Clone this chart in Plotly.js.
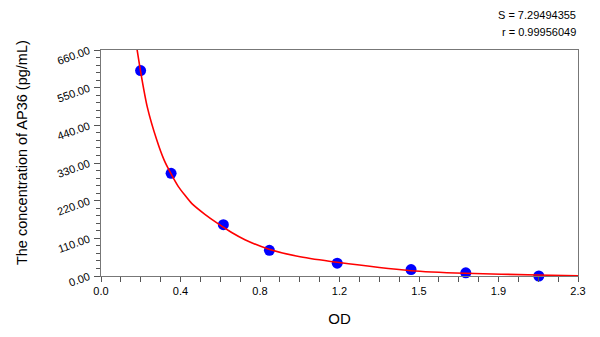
<!DOCTYPE html>
<html>
<head>
<meta charset="utf-8">
<script src="https://cdn.plot.ly/plotly-3.0.1.min.js"></script>
<style>html,body{margin:0;padding:0;background:#fff;}#chart{width:600px;height:337px;}</style>
</head>
<body>
<div id="chart"></div>
<script>
// Standard points (OD vs concentration)
const pointOD = [0.191, 0.338, 0.590, 0.812, 1.139, 1.495, 1.759, 2.111];
const pointConc = [600, 300, 150, 75, 37.5, 18.75, 9.375, 0];
// Fitted curve
const curveOD = [0.172, 0.191, 0.223, 0.269, 0.304, 0.338, 0.373, 0.437, 0.501, 0.566, 0.630, 0.694, 0.810, 0.960, 1.138, 1.495, 1.755, 2.107, 2.300];
const curveConc = [669, 597, 494, 397, 339, 298, 261, 212, 180, 152, 127, 106, 78, 56, 40, 15.5, 7.9, 2.8, 0.9];
// Axis ticks
const xTickVals = [0, 2.3/6, 4.6/6, 6.9/6, 9.2/6, 11.5/6, 2.3];
const xTickText = ["0.0", "0.4", "0.8", "1.2", "1.5", "1.9", "2.3"];
const statLines = ["S = 7.29494355", "r = 0.99956049"];
const yTitle = "The concentration of AP36 (pg/mL)";
const xTitle = "OD";

const font = "Liberation Sans, Arial, sans-serif";

const traces = [
  {x: pointOD, y: pointConc, mode: "markers", type: "scatter",
   marker: {color: "#0000ff", size: 11, line: {width: 0}}, cliponaxis: false},
  {x: curveOD, y: curveConc, mode: "lines", type: "scatter",
   line: {color: "#ff0000", width: 1.6, shape: "spline", smoothing: 0.5}}
];

const layout = {
  width: 600, height: 337,
  margin: {l: 101, r: 22, t: 50, b: 61},
  paper_bgcolor: "#fff", plot_bgcolor: "#fff",
  showlegend: false,
  font: {family: font, color: "#000", size: 11},
  xaxis: {
    range: [0, 2.3], tickmode: "array", tickvals: xTickVals, ticktext: xTickText,
    ticks: "outside", ticklen: 5, tickcolor: "#555", showline: true, linecolor: "#777", linewidth: 1,
    mirror: true, showgrid: false, zeroline: false,
    minor: {ticks: "outside", ticklen: 5, tickcolor: "#555", tickmode: "linear", tick0: 0, dtick: 2.3/24, showgrid: false},
    tickfont: {size: 11, family: font},
    title: {text: xTitle, font: {size: 15, family: font}, standoff: 17}
  },
  yaxis: {
    range: [0, 660], tickmode: "linear", tick0: 0, dtick: 110, tickformat: ".2f",
    ticks: "outside", ticklen: 6, tickcolor: "#555", showline: true, linecolor: "#777", linewidth: 1,
    mirror: true, showgrid: false, zeroline: false, tickangle: -20, ticklabelstandoff: 3,
    minor: {ticks: "outside", ticklen: 4, tickcolor: "#555", tickmode: "linear", tick0: 0, dtick: 22, showgrid: false},
    tickfont: {size: 11, family: font}
  },
  annotations: [
    {xref: "paper", yref: "paper", x: -0.1656, y: 0.544, xanchor: "center", yanchor: "middle", textangle: -90, text: yTitle, showarrow: false, font: {size: 14.5, family: font}},
    {xref: "paper", yref: "paper", x: 1.0, y: 1.155, xanchor: "right", yanchor: "middle", text: statLines[0], showarrow: false, font: {size: 11, family: font}},
    {xref: "paper", yref: "paper", x: 1.0, y: 1.08, xanchor: "right", yanchor: "middle", text: statLines[1], showarrow: false, font: {size: 11, family: font}}
  ]
};

Plotly.newPlot("chart", traces, layout, {staticPlot: true, displayModeBar: false});
</script>
</body>
</html>
